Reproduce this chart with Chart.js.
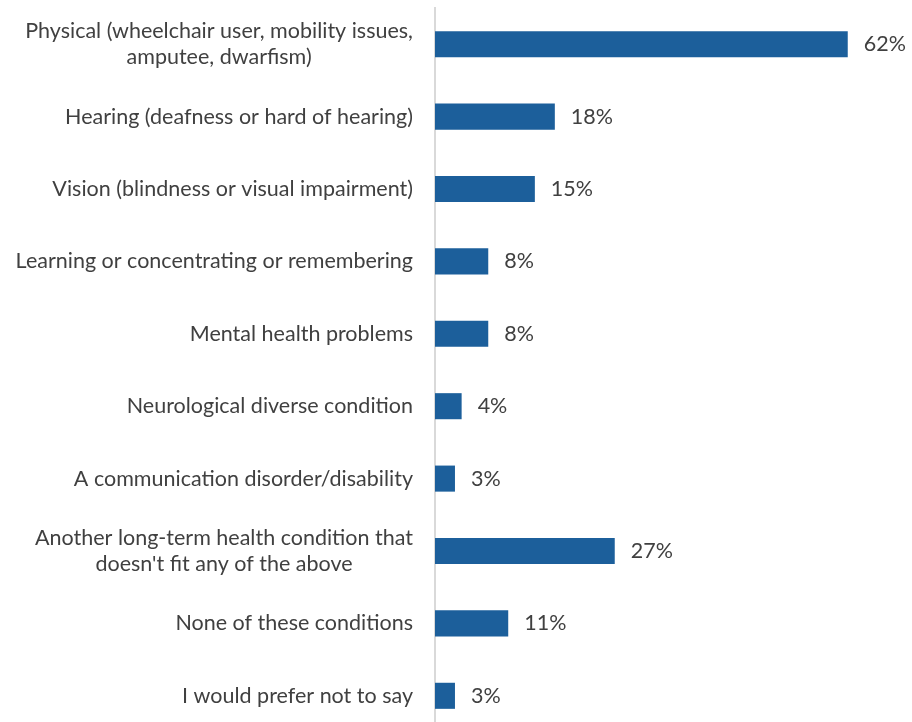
<!DOCTYPE html>
<html>
<head>
<meta charset="utf-8">
<script src="https://cdn.jsdelivr.net/npm/chart.js@4.4.0/dist/chart.umd.min.js"></script>
<style>
html,body{margin:0;padding:0;background:#fff;overflow:hidden;}
#wrap{position:absolute;left:0;top:0;width:912px;height:740px;}
</style>
</head>
<body>
<div id="wrap"><canvas id="c" width="912" height="740"></canvas></div>
<script>
const categories = [
  ["Physical (wheelchair user, mobility issues,", "amputee, dwarfism)"],
  ["Hearing (deafness or hard of hearing)"],
  ["Vision (blindness or visual impairment)"],
  ["Learning or concentrating or remembering"],
  ["Mental health problems"],
  ["Neurological diverse condition"],
  ["A communication disorder/disability"],
  ["Another long-term health condition that", "doesn't fit any of the above"],
  ["None of these conditions"],
  ["I would prefer not to say"]
];
const values = [62, 18, 15, 8, 8, 4, 3, 27, 11, 3];
const valueLabels = ["62%", "18%", "15%", "8%", "8%", "4%", "3%", "27%", "11%", "3%"];

const FONT = '21.5px Lato, "Open Sans", sans-serif';
const TEXT = '#404040';

const labelPlugin = {
  id: 'labels',
  afterDraw(chart) {
    const ctx = chart.ctx;
    const y = chart.scales.y;
    const meta = chart.getDatasetMeta(0);
    ctx.save();
    ctx.font = FONT;
    ctx.fillStyle = TEXT;
    ctx.textBaseline = 'middle';
    const rightEdge = chart.chartArea.left - 22;
    const lh = 26;
    categories.forEach((lines, i) => {
      const cy = y.getPixelForValue(i);
      const widths = lines.map(l => ctx.measureText(l).width);
      const maxW = Math.max(...widths);
      const centerX = rightEdge - maxW / 2;
      ctx.textAlign = 'center';
      lines.forEach((l, j) => {
        const ly = cy + (j - (lines.length - 1) / 2) * lh;
        ctx.fillText(l, centerX, ly);
      });
    });
    ctx.textAlign = 'left';
    meta.data.forEach((bar, i) => {
      ctx.fillText(valueLabels[i], bar.x + 16, bar.y);
    });
    ctx.restore();
  }
};

new Chart(document.getElementById('c'), {
  type: 'bar',
  data: {
    labels: categories.map(c => c.join(' ')),
    datasets: [{
      data: values,
      backgroundColor: '#1c5f9b',
      borderWidth: 0,
      categoryPercentage: 1,
      barPercentage: 0.36
    }]
  },
  options: {
    indexAxis: 'y',
    responsive: false,
    animation: false,
    layout: { padding: { left: 435, right: 11, top: 8, bottom: 8 } },
    plugins: { legend: { display: false }, tooltip: { enabled: false } },
    scales: {
      x: { display: false, min: 0, max: 70 },
      y: {
        display: true,
        afterFit: (s) => { s.width = 0; },
        ticks: { display: false },
        grid: { display: false },
        border: { display: true, color: '#d9d9d9', width: 2 }
      }
    }
  },
  plugins: [labelPlugin]
});
</script>
</body>
</html>
